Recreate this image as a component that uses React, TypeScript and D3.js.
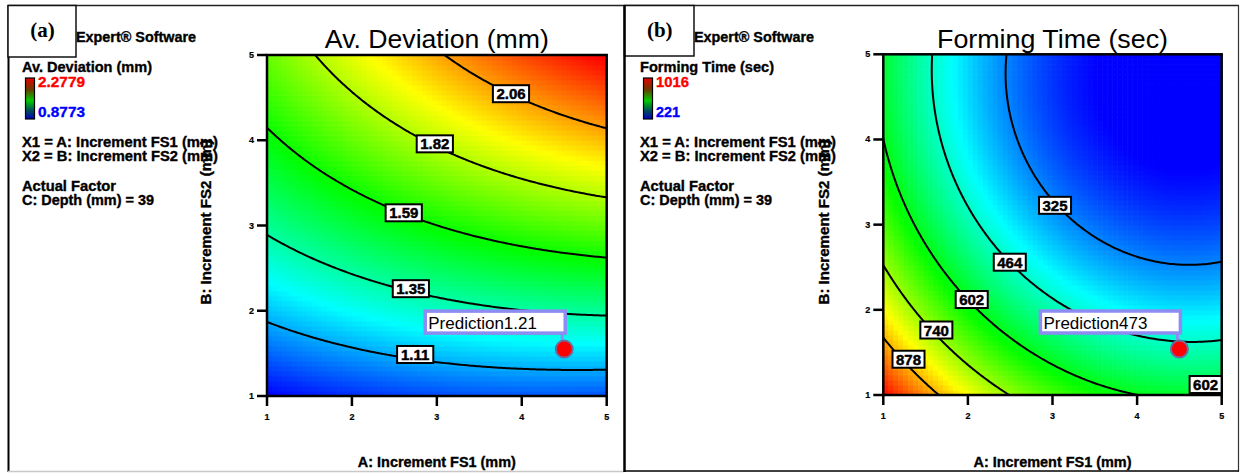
import React, { useMemo } from 'react';
import * as d3 from 'd3';

// ---------------- data ----------------
const axisTicks = [1, 2, 3, 4, 5];

// Panel (a): Av. Deviation (mm)
const deviationLevels = [1.11, 1.35, 1.59, 1.82, 2.06];
const deviationRange = [0.8773, 2.2779];
// points on the drawn contour lines, [A, B, value]
const deviationReadings: number[][] = [
  [2.95, 5, 2.06], [3.31, 4.9, 2.06], [3.873, 4.546, 2.06], [4.49, 4.28, 2.06], [5, 4.13, 2.06],
  [1.59, 5, 1.82], [2.13, 4.43, 1.82], [2.976, 3.958, 1.82], [4.09, 3.53, 1.82], [5, 3.32, 1.82],
  [1, 4.16, 1.59], [1.35, 3.85, 1.59], [2.61, 3.149, 1.59], [3.31, 2.91, 1.59], [4.09, 2.71, 1.59], [5, 2.61, 1.59],
  [1, 2.89, 1.35], [1.74, 2.52, 1.35], [2.694, 2.259, 1.35], [3.7, 2.05, 1.35], [5, 1.95, 1.35],
  [1, 1.86, 1.11], [1.74, 1.62, 1.11], [2.745, 1.487, 1.11], [3.31, 1.344, 1.11], [4, 1.297, 1.11], [5, 1.34, 1.11],
  [1, 1, 0.8773], [5, 5, 2.2779], [4.5, 1.55, 1.21],
];
const deviationLabelSpots: [number, number, string][] = [
  [3.873, 4.546, '2.06'], [2.976, 3.958, '1.82'], [2.61, 3.149, '1.59'], [2.694, 2.259, '1.35'], [2.745, 1.487, '1.11'],
];
const deviationPrediction = { a: 4.5, b: 1.55, value: '1.21' };

// Panel (b): Forming Time (sec)
const formingLevels = [325, 464, 602, 740, 878];
const formingRange = [221, 1016];
const formingReadings: number[][] = [
  [1, 1.645, 878], [1.63, 1, 878], [1.298, 1.42, 878],
  [1, 2.47, 740], [2.41, 1, 740], [1.627, 1.763, 740],
  [1, 3.9, 602], [1.2, 3.29, 602], [2.045, 2.121, 602], [2.46, 1.72, 602], [3.05, 1.33, 602], [3.64, 1.1, 602], [4.03, 1.0, 602],
  [1.58, 5, 464], [1.67, 4.42, 464], [1.79, 3.84, 464], [1.87, 3.29, 464], [2.495, 2.559, 464], [3.83, 1.73, 464], [4.54, 1.63, 464], [5, 1.69, 464],
  [2.41, 5, 325], [2.7, 3.76, 325], [3.03, 3.227, 325], [3.64, 2.78, 325], [4.42, 2.49, 325], [5, 2.58, 325],
  [1, 1, 1016], [4.5, 1.54, 473],
];
const formingLabelSpots: [number, number, string][] = [
  [3.03, 3.227, '325'], [2.495, 2.559, '464'], [2.045, 2.121, '602'], [1.627, 1.763, '740'], [1.298, 1.42, '878'], [4.81, 1.123, '602'],
];
const formingPrediction = { a: 4.5, b: 1.54, value: '473' };

const sharedInfo = ['X1 = A: Increment FS1 (mm)', 'X2 = B: Increment FS2 (mm)'];
const factorInfo = ['Actual Factor', 'C: Depth (mm) = 39'];

// ---------------- helpers ----------------
const SANS = "'Liberation Sans', Arial, Helvetica, sans-serif";
const SERIF = "'Liberation Serif', 'Times New Roman', serif";

function fitQuadratic(readings: number[][]) {
  const basis = (a: number, b: number) => [1, a, b, a * b, a * a, b * b];
  const n = 6;
  const M = Array.from({ length: n }, () => new Array(n + 1).fill(0));
  for (const [a, b, z] of readings) {
    const f = basis(a, b);
    for (let i = 0; i < n; i++) {
      for (let j = 0; j < n; j++) M[i][j] += f[i] * f[j];
      M[i][n] += f[i] * z;
    }
  }
  for (let c = 0; c < n; c++) {
    let p = c;
    for (let r = c + 1; r < n; r++) if (Math.abs(M[r][c]) > Math.abs(M[p][c])) p = r;
    const tmp = M[c]; M[c] = M[p]; M[p] = tmp;
    for (let r = 0; r < n; r++) {
      if (r === c) continue;
      const k = M[r][c] / M[c][c];
      for (let j = c; j <= n; j++) M[r][j] -= k * M[c][j];
    }
  }
  const coef = M.map((row, i) => row[n] / row[i]);
  return (a: number, b: number) => basis(a, b).reduce((s, v, i) => s + v * coef[i], 0);
}

const jet = d3.scaleLinear<string>()
  .domain([0, 0.25, 0.5, 0.75, 1])
  .range(['#0000ff', '#00ffff', '#00ff00', '#ffff00', '#ff0000'])
  .clamp(true);

type PanelProps = {
  id: string;
  dx: number;
  letter: string;
  letterBox: { x: number; y: number; w: number; h: number };
  responseName: string;
  responseNameW: number;
  rangeLabels: [string, string];
  rangeW: [number, number];
  title: string;
  titleW: number;
  plot: { x0: number; x1: number; y0: number; y1: number };
  yLabelX: number;
  readings: number[][];
  range: number[];
  levels: number[];
  labelSpots: [number, number, string][];
  prediction: { a: number; b: number; value: string };
};

const heavy = { fontFamily: SANS, fontWeight: 'bold' as const, stroke: '#000', strokeWidth: 0.35 };

function Panel(p: PanelProps) {
  const xs = d3.scaleLinear().domain([1, 5]).range([p.plot.x0, p.plot.x1]);
  const ys = d3.scaleLinear().domain([1, 5]).range([p.plot.y1, p.plot.y0]);
  const f = useMemo(() => fitQuadratic(p.readings), [p.readings]);
  const norm = (v: number) => (v - p.range[0]) / (p.range[1] - p.range[0]);

  const cells = useMemo(() => {
    const N = 68;
    const out: { x: number; y: number; w: number; h: number; c: string }[] = [];
    for (let i = 0; i < N; i++) {
      for (let j = 0; j < N; j++) {
        const a0 = 1 + (4 * i) / N, a1 = 1 + (4 * (i + 1)) / N;
        const b0 = 1 + (4 * j) / N, b1 = 1 + (4 * (j + 1)) / N;
        const v = f((a0 + a1) / 2, (b0 + b1) / 2);
        out.push({ x: xs(a0), y: ys(b1), w: xs(a1) - xs(a0) + 0.6, h: ys(b0) - ys(b1) + 0.6, c: jet(norm(v)) });
      }
    }
    return out;
  }, [f]);

  const contourPaths = useMemo(() => {
    const n = 161;
    const vals: number[] = new Array(n * n);
    for (let j = 0; j < n; j++)
      for (let i = 0; i < n; i++) vals[j * n + i] = f(1 + (4 * i) / (n - 1), 1 + (4 * j) / (n - 1));
    const cs = d3.contours().size([n, n]).thresholds(p.levels)(vals);
    const proj = d3.geoTransform({
      point(x: number, y: number) {
        (this as any).stream.point(xs(1 + (4 * (x - 0.5)) / (n - 1)), ys(1 + (4 * (y - 0.5)) / (n - 1)));
      },
    });
    const path = d3.geoPath(proj as any);
    return cs.map((c) => path(c as any) || '');
  }, [f]);

  const { x0, x1, y0, y1 } = p.plot;
  const cx = (x0 + x1) / 2;
  const dot = { x: xs(p.prediction.a), y: ys(p.prediction.b) };
  const box = { x: dot.x - 139, y: dot.y - 38, w: 140, h: 22 };
  const dx = p.dx;

  return (
    <g>
      {/* left info block */}
      <text x={76 + dx} y={41.5} {...heavy} fontSize={14} textLength={120} lengthAdjust="spacingAndGlyphs">Expert® Software</text>
      <text x={22 + dx} y={71.5} {...heavy} fontSize={14} textLength={p.responseNameW} lengthAdjust="spacingAndGlyphs">{p.responseName}</text>
      <defs>
        <linearGradient id={`bar-${p.id}`} x1="0" y1="0" x2="0" y2="1">
          <stop offset="0" stopColor="#e80000" />
          <stop offset="0.28" stopColor="#6a3a00" />
          <stop offset="0.55" stopColor="#00cc00" />
          <stop offset="0.8" stopColor="#004a5a" />
          <stop offset="1" stopColor="#0000c0" />
        </linearGradient>
        <clipPath id={`clip-${p.id}`}>
          <rect x={x0} y={y0} width={x1 - x0} height={y1 - y0} />
        </clipPath>
      </defs>
      <rect x={25.5 + dx} y={78} width={9} height={41} fill={`url(#bar-${p.id})`} stroke="#000" strokeWidth={1.2} />
      <text x={38 + dx} y={86.5} {...heavy} stroke="#ff0000" fontSize={15} fill="#ff0000" textLength={p.rangeW[0]} lengthAdjust="spacingAndGlyphs">{p.rangeLabels[0]}</text>
      <text x={38 + dx} y={116.5} {...heavy} stroke="#0000ff" fontSize={15} fill="#0000ff" textLength={p.rangeW[1]} lengthAdjust="spacingAndGlyphs">{p.rangeLabels[1]}</text>
      {sharedInfo.map((t, i) => (
        <text key={t} x={22 + dx} y={146.5 + i * 14.5} {...heavy} fontSize={14} textLength={196} lengthAdjust="spacingAndGlyphs">{t}</text>
      ))}
      <text x={22 + dx} y={190.5} {...heavy} fontSize={14} textLength={94} lengthAdjust="spacingAndGlyphs">{factorInfo[0]}</text>
      <text x={22 + dx} y={205} {...heavy} fontSize={14} textLength={132} lengthAdjust="spacingAndGlyphs">{factorInfo[1]}</text>

      {/* title */}
      <text x={cx} y={48} textAnchor="middle" fontFamily={SANS} fontSize={25} textLength={p.titleW} lengthAdjust="spacingAndGlyphs">{p.title}</text>

      {/* field */}
      <g clipPath={`url(#clip-${p.id})`}>
        {cells.map((c, i) => (
          <rect key={i} x={c.x} y={c.y} width={c.w} height={c.h} fill={c.c} />
        ))}
        {contourPaths.map((d, i) => (
          <path key={i} d={d} fill="none" stroke="#000" strokeWidth={2} />
        ))}
      </g>
      <rect x={x0} y={y0} width={x1 - x0} height={y1 - y0} fill="none" stroke="#000" strokeWidth={2.5} />

      {/* axes ticks */}
      {axisTicks.map((t) => (
        <g key={`x${t}`}>
          <line x1={xs(t)} x2={xs(t)} y1={y1} y2={y1 + 10} stroke="#000" strokeWidth={2.5} />
          <text x={xs(t)} y={y1 + 24} textAnchor="middle" {...heavy} strokeWidth={0.2} fontSize={9}>{t}</text>
        </g>
      ))}
      {axisTicks.map((t) => (
        <g key={`y${t}`}>
          <line x1={x0 - 10} x2={x0} y1={ys(t)} y2={ys(t)} stroke="#000" strokeWidth={2.5} />
          <text x={x0 - 13} y={ys(t) + 3} textAnchor="end" {...heavy} strokeWidth={0.2} fontSize={9}>{t}</text>
        </g>
      ))}
      <text x={cx} y={466.5} textAnchor="middle" {...heavy} fontSize={14} textLength={158} lengthAdjust="spacingAndGlyphs">A: Increment FS1 (mm)</text>
      <text transform={`translate(${p.yLabelX},222) rotate(-90)`} textAnchor="middle" {...heavy} fontSize={14} textLength={165} lengthAdjust="spacingAndGlyphs">B: Increment FS2 (mm)</text>

      {/* contour labels */}
      {p.labelSpots.map(([a, b, t], i) => {
        const w = t.length * 8.34 + (t.includes('.') ? 4.17 - 8.34 : 0) + 7;
        return (
          <g key={i}>
            <rect x={xs(a) - w / 2} y={ys(b) - 8.5} width={w} height={17} fill="#fff" stroke="#000" strokeWidth={2} />
            <text x={xs(a)} y={ys(b) + 5.5} textAnchor="middle" {...heavy} strokeWidth={0.45} fontSize={15}>{t}</text>
          </g>
        );
      })}

      {/* prediction */}
      <line x1={dot.x - 2} x2={dot.x - 2} y1={box.y + box.h} y2={dot.y - 7} stroke="#8c8cf2" strokeWidth={3} />
      <rect x={box.x} y={box.y} width={box.w} height={box.h} fill="#fff" stroke="#8c8cf2" strokeWidth={3.5} />
      <text x={box.x + 3} y={box.y + box.h - 4} fontFamily={SANS} fontSize={17}>{`Prediction${p.prediction.value}`}</text>
      <circle cx={dot.x} cy={dot.y} r={8.5} fill="#ff0000" stroke="#6c6ca0" strokeWidth={2} />

      {/* panel letter box */}
      <rect x={p.letterBox.x} y={p.letterBox.y} width={p.letterBox.w} height={p.letterBox.h} fill="#fff" stroke="#111" strokeWidth={1.5} />
      <text x={p.letterBox.x + p.letterBox.w / 2 + 0.5} y={37} textAnchor="middle" fontFamily={SERIF} fontWeight="bold" fontSize={21}>{p.letter}</text>
    </g>
  );
}

export default function App() {
  return (
    <svg width={1241} height={473} style={{ position: 'absolute', left: 0, top: 0, background: '#fff' }}>
      <rect x={0} y={0} width={1241} height={473} fill="#fff" />
      {/* outer frames */}
      <line x1={8} x2={624} y1={5.5} y2={5.5} stroke="#222" strokeWidth={1.5} />
      <line x1={8.5} x2={8.5} y1={5} y2={472} stroke="#000" strokeWidth={2} />
      <line x1={8} x2={624} y1={471.5} y2={471.5} stroke="#c8c8c8" strokeWidth={1.5} />
      <line x1={624} x2={1239} y1={5.5} y2={5.5} stroke="#222" strokeWidth={1.5} />
      <line x1={1238.5} x2={1238.5} y1={5} y2={471.5} stroke="#333" strokeWidth={1.2} />
      <line x1={624} x2={1239} y1={471} y2={471} stroke="#000" strokeWidth={1.5} />

      <Panel
        id="a"
        dx={0}
        letter="(a)"
        letterBox={{ x: 8, y: 5.5, w: 68, h: 51.5 }}
        responseName="Av. Deviation (mm)"
        responseNameW={130}
        rangeLabels={['2.2779', '0.8773']}
        rangeW={[47, 47]}
        title="Av. Deviation (mm)"
        titleW={224}
        plot={{ x0: 267, x1: 606.7, y0: 55, y1: 396 }}
        yLabelX={210.5}
        readings={deviationReadings}
        range={deviationRange}
        levels={deviationLevels}
        labelSpots={deviationLabelSpots}
        prediction={deviationPrediction}
      />
      <Panel
        id="b"
        dx={618}
        letter="(b)"
        letterBox={{ x: 624.5, y: 5.5, w: 69.5, h: 50.5 }}
        responseName="Forming Time (sec)"
        responseNameW={134}
        rangeLabels={['1016', '221']}
        rangeW={[33, 24]}
        title="Forming Time (sec)"
        titleW={231}
        plot={{ x0: 883.3, x1: 1221.7, y0: 54.3, y1: 395 }}
        yLabelX={828.5}
        readings={formingReadings}
        range={formingRange}
        levels={formingLevels}
        labelSpots={formingLabelSpots}
        prediction={formingPrediction}
      />
      <line x1={624.5} x2={624.5} y1={5} y2={472} stroke="#000" strokeWidth={2.5} />
    </svg>
  );
}
